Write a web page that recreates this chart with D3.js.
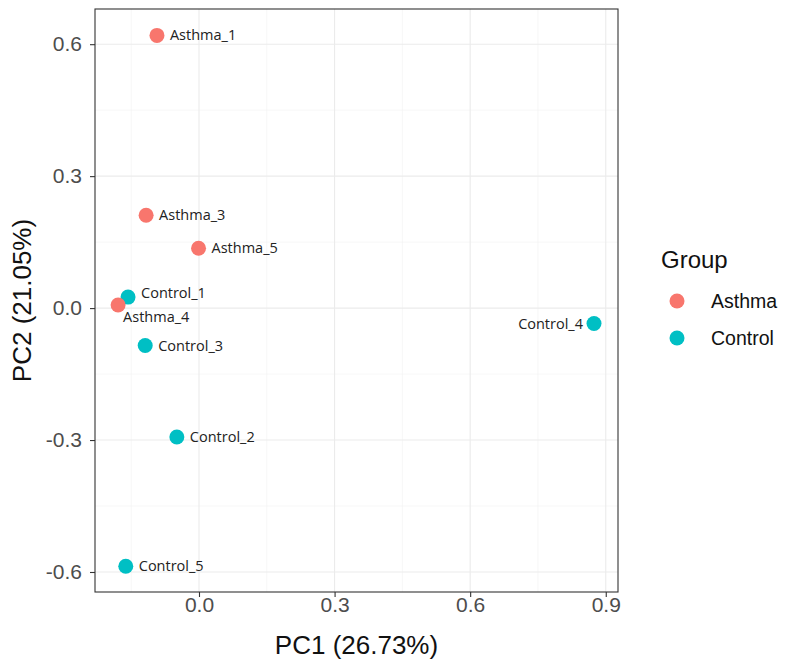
<!DOCTYPE html>
<html><head><meta charset="utf-8">
<script src="https://cdn.jsdelivr.net/npm/d3@7"></script>
<style>body{margin:0;background:#fff}</style>
</head><body>
<svg id="c" width="788" height="660"></svg>
<script>
const samples = ["Asthma_1","Asthma_3","Asthma_5","Control_1","Asthma_4","Control_3","Control_2","Control_5","Control_4"];
const groups  = ["Asthma","Asthma","Asthma","Control","Asthma","Control","Control","Control","Control"];
const pc1     = [-0.093,-0.117,-0.001,-0.157,-0.179,-0.119,-0.049,-0.162,0.874];
const pc2     = [0.620,0.211,0.136,0.025,0.007,-0.085,-0.293,-0.587,-0.035];
const labelPos = ["right","right","right","rightup","below","right","right","right","left"];
const xTicks = [0.0,0.3,0.6,0.9];
const yTicks = [-0.6,-0.3,0.0,0.3,0.6];
const xMinor = [-0.15,0.15,0.45,0.75];
const yMinor = [-0.45,-0.15,0.15,0.45];
const groupNames = ["Asthma","Control"];
const groupColors = ["#F8766D","#00BFC4"];

const svg = d3.select("#c");
const L=95,R=618,T=9,B=592;
const x = d3.scaleLinear().domain([-0.2301,0.9271]).range([L,R]);
const y = d3.scaleLinear().domain([-0.6455,0.68]).range([B,T]);
const col = d3.scaleOrdinal().domain(groupNames).range(groupColors);
const FONT = "Liberation Sans, Arial, sans-serif";

const g = svg.append("g");
g.selectAll(".vmin").data(xMinor).enter().append("line")
 .attr("x1",d=>x(d)).attr("x2",d=>x(d)).attr("y1",T).attr("y2",B)
 .attr("stroke","#f2f2f2").attr("stroke-width",0.6);
g.selectAll(".hmin").data(yMinor).enter().append("line")
 .attr("y1",d=>y(d)).attr("y2",d=>y(d)).attr("x1",L).attr("x2",R)
 .attr("stroke","#f2f2f2").attr("stroke-width",0.6);
g.selectAll(".vmaj").data(xTicks).enter().append("line")
 .attr("x1",d=>x(d)).attr("x2",d=>x(d)).attr("y1",T).attr("y2",B)
 .attr("stroke","#ebebeb").attr("stroke-width",1.1);
g.selectAll(".hmaj").data(yTicks).enter().append("line")
 .attr("y1",d=>y(d)).attr("y2",d=>y(d)).attr("x1",L).attr("x2",R)
 .attr("stroke","#ebebeb").attr("stroke-width",1.1);

// axes
const fmt = d=>d3.format(".1f")(d).replace("−","-");
const xa = svg.append("g").attr("transform",`translate(0,${B})`)
 .call(d3.axisBottom(x).tickValues(xTicks).tickFormat(fmt).tickSize(5).tickPadding(10));
const ya = svg.append("g").attr("transform",`translate(${L},0)`)
 .call(d3.axisLeft(y).tickValues(yTicks).tickFormat(fmt).tickSize(5).tickPadding(8));
[xa,ya].forEach(a=>{
  a.select(".domain").remove();
  a.selectAll(".tick line").attr("stroke","#333").attr("stroke-width",1.1);
  a.selectAll(".tick text").attr("fill","#4d4d4d").style("font-family",FONT).style("font-size","21px");
});
xa.selectAll(".tick text").attr("dy","0.71em").attr("y",5);
ya.selectAll(".tick text").attr("x",-13);

svg.append("rect").attr("x",L).attr("y",T).attr("width",R-L).attr("height",B-T)
 .attr("fill","none").attr("stroke","#333").attr("stroke-width",1.1);

// points
svg.selectAll(".pt").data(samples).enter().append("circle")
 .attr("cx",(d,i)=>x(pc1[i])).attr("cy",(d,i)=>y(pc2[i])).attr("r",7.5)
 .attr("fill",(d,i)=>col(groups[i]));

// labels
svg.selectAll(".lb").data(samples).enter().append("text")
 .attr("x",(d,i)=>{const p=labelPos[i];return p.startsWith("right")?x(pc1[i])+13:p==="left"?x(pc1[i])-11:x(pc1[i])+5;})
 .attr("y",(d,i)=>{const p=labelPos[i];return p==="below"?y(pc2[i])+12:p==="rightup"?y(pc2[i])-4:y(pc2[i]);})
 .attr("dy","0.35em")
 .attr("text-anchor",(d,i)=>labelPos[i]==="left"?"end":"start")
 .style("font-family","Open Sans, sans-serif").style("font-size","14.5px").attr("fill","#222")
 .text(d=>d);

// axis titles
svg.append("text").attr("x",(L+R)/2).attr("y",654).attr("text-anchor","middle")
 .style("font-family",FONT).style("font-size","26px").attr("fill","#111")
 .text("PC1 (26.73%)");
svg.append("text").attr("transform",`translate(31,${(T+B)/2}) rotate(-90)`).attr("text-anchor","middle")
 .style("font-family",FONT).style("font-size","26px").attr("fill","#111")
 .text("PC2 (21.05%)");

// legend
svg.append("text").attr("x",661).attr("y",268)
 .style("font-family",FONT).style("font-size","24px").attr("fill","#111")
 .text("Group");
const lg = svg.selectAll(".lg").data(groupNames).enter().append("g")
 .attr("transform",(d,i)=>`translate(677,${301+i*37})`);
lg.append("circle").attr("r",7.5).attr("fill",d=>col(d));
lg.append("text").attr("x",34).attr("dy","0.35em")
 .style("font-family",FONT).style("font-size","19.5px").attr("fill","#111")
 .text(d=>d);
</script>
</body></html>
